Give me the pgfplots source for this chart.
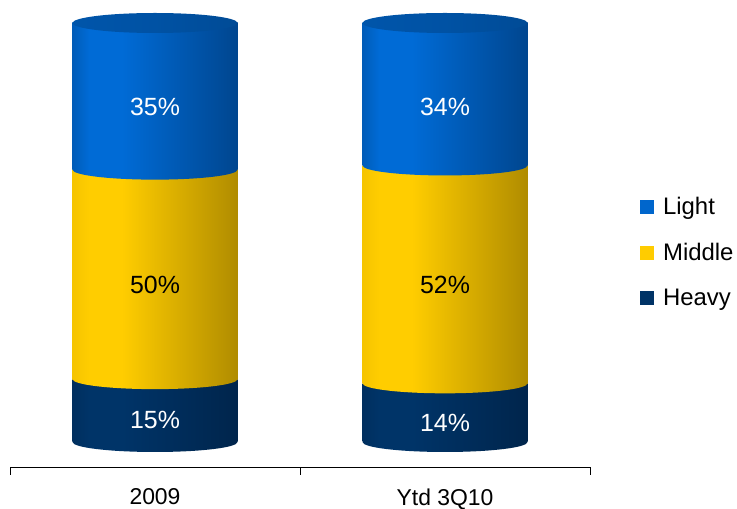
\documentclass[border=0pt]{standalone}
\usepackage{fontspec}
\setmainfont{Liberation Sans}
\usepackage{pgfplots}
\pgfplotsset{compat=1.18}
\usetikzlibrary{shapes.geometric}
\definecolor{cLight}{HTML}{0066CC}
\definecolor{cMid}{HTML}{FFCC00}
\definecolor{cHeavy}{HTML}{003366}
\definecolor{L1}{HTML}{005CB8}
\definecolor{L2}{HTML}{006BD6}
\definecolor{L3}{HTML}{00468F}
\definecolor{M1}{HTML}{F5C400}
\definecolor{M2}{HTML}{FFCD00}
\definecolor{M3}{HTML}{B08C00}
\definecolor{H1}{HTML}{002F5E}
\definecolor{H2}{HTML}{003468}
\definecolor{H3}{HTML}{00254C}
\definecolor{T1}{HTML}{0055AA}
\definecolor{T2}{HTML}{0052A4}
\definecolor{T3}{HTML}{004B96}
\pgfdeclarehorizontalshading{shL}{100bp}{color(0bp)=(L1); color(25bp)=(L1); color(30bp)=(L2); color(40bp)=(L2); color(75bp)=(L3); color(100bp)=(L3)}
\pgfdeclarehorizontalshading{shM}{100bp}{color(0bp)=(M1); color(25bp)=(M1); color(30bp)=(M2); color(40bp)=(M2); color(75bp)=(M3); color(100bp)=(M3)}
\pgfdeclarehorizontalshading{shH}{100bp}{color(0bp)=(H1); color(25bp)=(H1); color(30bp)=(H2); color(40bp)=(H2); color(75bp)=(H3); color(100bp)=(H3)}
\pgfdeclarehorizontalshading{shT}{100bp}{color(0bp)=(T1); color(25bp)=(T1); color(50bp)=(T2); color(75bp)=(T3); color(100bp)=(T3)}
\pgfplotsset{
  base/.style={
    scale only axis, width=580bp, height=444bp,
    xmin=0, xmax=2, ymin=-5.97, ymax=100,
    clip=false, bar width=0.569,
  },
  cap/.style={only marks, mark=none, forget plot, stack plots=false,
    nodes near coords={}, every node near coord/.style={shape=ellipse, minimum width=165bp,
    minimum height=20bp, inner sep=0pt, draw=none, shading=#1, anchor=center}},
  seg/.style={ybar stacked, forget plot, draw=none, shading=#1},
  lbl/.style={only marks, mark=none, forget plot, stack plots=false, nodes near coords, point meta=explicit symbolic,
    every node near coord/.append style={anchor=center, text=#1, font=\fontsize{25}{28}\selectfont}},
}
\begin{document}
\begin{tikzpicture}
\begin{axis}[base,
  axis x line*=bottom, axis y line=none,
  xtick={0,1,2}, xticklabels={},
  major tick length=8bp, tick align=outside,
  x axis line style={black, line width=0.8pt},
  xtick style={black, line width=0.8pt},
  extra x ticks={0.5,1.5},
  extra x tick labels={2009,Ytd 3Q10},
  extra x tick style={major tick length=0pt, tick label style={yshift=-18bp}},
  ticklabel style={font=\fontsize{23}{26}\selectfont},
  legend style={at={(1.086,0.484)}, anchor=west, draw=none, fill=none,
    font=\fontsize{24}{27}\selectfont, row sep=27bp, inner sep=0pt,
    nodes={inner sep=0pt}, legend cell align=left,
    /tikz/every odd column/.append style={column sep=9bp}},
  legend image code/.code={\fill[#1] (0bp,-7bp) rectangle (14bp,7bp);},
]
\coordinate (sw) at (rel axis cs:0,0);
\addlegendimage{fill=cLight, draw=none}
\addlegendentry{Light}
\addlegendimage{fill=cMid, draw=none}
\addlegendentry{Middle}
\addlegendimage{fill=cHeavy, draw=none}
\addlegendentry{Heavy}
% 2009 column: Heavy 15, Middle 50, Light 35
\addplot[seg=shH] coordinates {(0.5,15)};
\addplot[seg=shM] coordinates {(0.5,50)};
\addplot[seg=shL] coordinates {(0.5,35)};
\addplot[cap=shH] coordinates {(0.5,0)};
\addplot[cap=shM] coordinates {(0.5,15)};
\addplot[cap=shL] coordinates {(0.5,65)};
\addplot[cap=shT] coordinates {(0.5,100)};
\addplot[lbl=white] coordinates {(0.5,5.3)[15\%] (0.5,80)[35\%]};
\addplot[lbl=black] coordinates {(0.5,37.5)[50\%]};
\end{axis}
\begin{axis}[base, hide axis]
% Ytd 3Q10 column: Heavy 14, Middle 52, Light 34
\addplot[seg=shH] coordinates {(1.5,14)};
\addplot[seg=shM] coordinates {(1.5,52)};
\addplot[seg=shL] coordinates {(1.5,34)};
\addplot[cap=shH] coordinates {(1.5,0)};
\addplot[cap=shM] coordinates {(1.5,14)};
\addplot[cap=shL] coordinates {(1.5,66)};
\addplot[cap=shT] coordinates {(1.5,100)};
\addplot[lbl=white] coordinates {(1.5,4.6)[14\%] (1.5,80)[34\%]};
\addplot[lbl=black] coordinates {(1.5,37.5)[52\%]};
\end{axis}
\pgfresetboundingbox
\path ([xshift=-10bp,yshift=-42bp]sw) rectangle ++(737bp,509bp);
\end{tikzpicture}
\end{document}
